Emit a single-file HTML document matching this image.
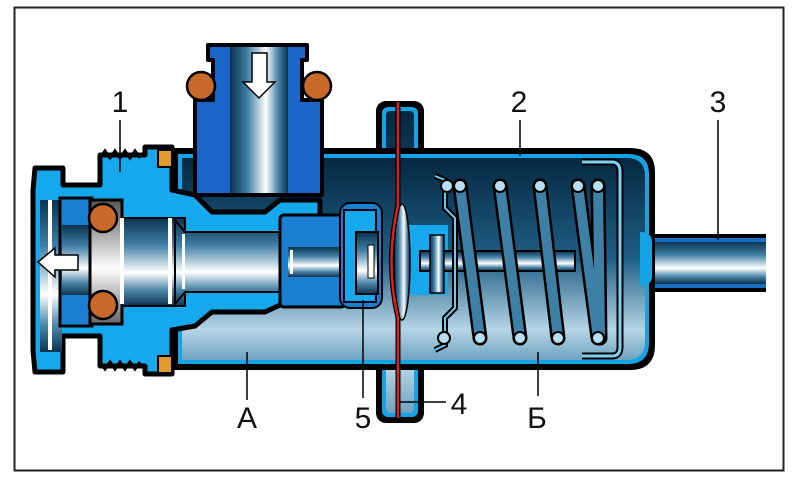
<!DOCTYPE html>
<html><head><meta charset="utf-8"><style>html,body{margin:0;padding:0;background:#fff}svg{display:block}</style></head><body>
<svg width="798" height="484" viewBox="0 0 798 484" xmlns="http://www.w3.org/2000/svg">
<defs>
<linearGradient id="cyl" x1="0" y1="0" x2="0" y2="1">
<stop offset="0" stop-color="#0a3350"/><stop offset="0.3" stop-color="#3f7fa5"/><stop offset="0.62" stop-color="#ffffff"/><stop offset="0.82" stop-color="#4f88ab"/><stop offset="1" stop-color="#0a3350"/></linearGradient>
<linearGradient id="cylv" x1="0" y1="0" x2="1" y2="0">
<stop offset="0" stop-color="#0a3350"/><stop offset="0.3" stop-color="#3f7fa5"/><stop offset="0.62" stop-color="#ffffff"/><stop offset="0.82" stop-color="#4f88ab"/><stop offset="1" stop-color="#0a3350"/></linearGradient>
<linearGradient id="ch" x1="0" y1="0" x2="0" y2="1">
<stop offset="0" stop-color="#052841"/><stop offset="0.5" stop-color="#1f5f85"/><stop offset="0.85" stop-color="#b5d5e5"/><stop offset="1" stop-color="#6fa3bf"/></linearGradient>
<linearGradient id="grey" x1="0" y1="0" x2="0" y2="1">
<stop offset="0" stop-color="#555"/><stop offset="0.55" stop-color="#fff"/><stop offset="1" stop-color="#666"/></linearGradient>
</defs>
<rect x="14.5" y="7.5" width="769" height="463" fill="#fff" stroke="#222" stroke-width="2"/>

<rect x="628" y="234" width="138" height="58" fill="#000"/>
<rect x="628" y="238" width="138" height="50" fill="#1a6fc4"/>
<rect x="628" y="242" width="138" height="42" fill="url(#cyl)"/>

<rect x="376" y="101" width="48" height="322" rx="10" fill="#000"/>
<rect x="382" y="107" width="36" height="310" rx="6" fill="#15a3e6"/>
<rect x="386" y="111" width="28" height="302" rx="4" fill="url(#ch)"/>

<path d="M172,148 H630 Q655,148 655,172 V345 Q655,370 630,370 H172 Z" fill="#000"/>
<path d="M178,154 H628 Q649,154 649,174 V343 Q649,364 628,364 H178 Z" fill="#15a3e6"/>
<path d="M182,158 H626 Q645,158 645,176 V341 Q645,360 626,360 H182 Z" fill="url(#ch)"/>
<path d="M640,232 q12,0 12,10 v34 q0,10 -12,10 z" fill="#15a3e6"/>

<path d="M35,168 H63 V185 H100 V155 H145 V147 H172 V190 L195,195 L212,212 H265 L280,200 H320 V305 H280 L265,312 H212 L195,326 L172,330 V374 H145 V366 H100 V336 H63 V372 H35 L33,350 V190 Z" fill="#15a8ec" stroke="#000" stroke-width="5" stroke-linejoin="round"/>
<path d="M100,158 l5,-7 l5,7 l5,-7 l5,7 l5,-7 l5,7 l5,-7 l5,7" fill="none" stroke="#000" stroke-width="3"/>
<path d="M100,362 l5,7 l5,-7 l5,7 l5,-7 l5,7 l5,-7 l5,7 l5,-7" fill="none" stroke="#000" stroke-width="3"/>
<rect x="158" y="150" width="14" height="17" fill="#e09a30" stroke="#000" stroke-width="2"/>
<rect x="158" y="356" width="14" height="17" fill="#e09a30" stroke="#000" stroke-width="2"/>

<rect x="40" y="200" width="22" height="152" fill="url(#cyl)"/>
<rect x="48" y="200" width="4" height="150" fill="#fff"/>
<rect x="60" y="198" width="32" height="128" fill="#1a7fd0" stroke="#000" stroke-width="3"/>
<rect x="62" y="225" width="28" height="70" fill="url(#cyl)"/>
<rect x="90" y="200" width="32" height="124" fill="url(#grey)" stroke="#000" stroke-width="3"/>
<rect x="122" y="218" width="63" height="88" fill="url(#cyl)" stroke="#000" stroke-width="2"/>
<rect x="120" y="218" width="4" height="86" fill="#fff"/>
<rect x="168" y="218" width="4" height="86" fill="#fff"/>
<path d="M175,220 L185,232 H285 V292 H185 L175,304 Z" fill="url(#cyl)" stroke="#000" stroke-width="2"/>
<rect x="182" y="234" width="3" height="55" fill="#fff"/>
<circle cx="103" cy="218" r="14" fill="#c8692a" stroke="#000" stroke-width="2.5"/>
<circle cx="103" cy="305" r="14" fill="#c8692a" stroke="#000" stroke-width="2.5"/>
<path d="M38,262 L55,248 V255 H78 V270 H55 V277 Z" fill="#fff" stroke="#000" stroke-width="1.5"/>

<rect x="280" y="215" width="65" height="92" rx="4" fill="#1a7fd0" stroke="#000" stroke-width="3"/>
<rect x="288" y="247" width="60" height="30" fill="url(#cyl)"/>
<rect x="290" y="250" width="3" height="24" fill="#fff"/>

<rect x="340" y="203" width="42" height="105" rx="10" fill="#1a7fd0" stroke="#000" stroke-width="2"/>
<rect x="344" y="210" width="32" height="92" fill="#15a8ec" stroke="#000" stroke-width="2"/>
<rect x="356" y="232" width="22" height="62" fill="url(#cyl)" stroke="#000" stroke-width="2"/>
<rect x="368" y="245" width="6" height="33" fill="#fff" stroke="#000" stroke-width="1"/>

<path d="M208,45 H307 V60 H302 V100 H322 V195 H195 V100 H213 V60 H208 Z" fill="#1a66c8" stroke="#000" stroke-width="4" stroke-linejoin="round"/>
<rect x="230" y="47" width="58" height="146" fill="url(#cylv)"/>
<path d="M252,53 H267 V82 H275 L259,98 L243,82 H252 Z" fill="#fff" stroke="#000" stroke-width="1.5"/>
<circle cx="201" cy="86" r="14" fill="#c8692a" stroke="#000" stroke-width="2.5"/>
<circle cx="317" cy="86" r="14" fill="#c8692a" stroke="#000" stroke-width="2.5"/>

<rect x="400" y="225" width="48" height="70" fill="#15a8ec"/>
<ellipse cx="402" cy="262" rx="8" ry="58" fill="url(#cylv)" stroke="#000" stroke-width="1.5"/>
<rect x="420" y="251" width="155" height="20" fill="url(#cyl)" stroke="#000" stroke-width="2"/>
<rect x="430" y="235" width="14" height="58" fill="url(#cylv)" stroke="#000" stroke-width="1.5"/>
<path d="M435,176 L445,180 V208 L455,218 V308 L445,318 V345 L435,350" fill="none" stroke="#000" stroke-width="6"/>
<path d="M435,176 L445,180 V208 L455,218 V308 L445,318 V345 L435,350" fill="none" stroke="#6cc8f0" stroke-width="2"/>

<path d="M398,102 V205 Q385,262 398,318 V418" fill="none" stroke="#000" stroke-width="5"/>
<path d="M398,102 V205 Q385,262 398,318 V418" fill="none" stroke="#e02020" stroke-width="2.5"/>

<path d="M582,162 H612 Q620,162 620,172 V347 Q620,356 612,356 H582" fill="none" stroke="#000" stroke-width="7"/>
<path d="M582,162 H612 Q620,162 620,172 V347 Q620,356 612,356 H582" fill="none" stroke="#7ed0f5" stroke-width="3"/>

<g stroke-linecap="round">
<g stroke="#000" stroke-width="15">
<line x1="460" y1="186" x2="480" y2="338"/><line x1="500" y1="186" x2="520" y2="338"/><line x1="540" y1="186" x2="558" y2="338"/><line x1="578" y1="186" x2="598" y2="338"/><line x1="598" y1="186" x2="600" y2="338"/>
</g>
<g stroke="#3d7fa5" stroke-width="10">
<line x1="460" y1="186" x2="480" y2="338"/><line x1="500" y1="186" x2="520" y2="338"/><line x1="540" y1="186" x2="558" y2="338"/><line x1="578" y1="186" x2="598" y2="338"/><line x1="598" y1="186" x2="600" y2="338"/>
</g>
</g>
<g fill="#b8e0f5" stroke="#000" stroke-width="2">
<circle cx="447" cy="186" r="6"/><circle cx="460" cy="186" r="6"/><circle cx="500" cy="186" r="6"/><circle cx="540" cy="186" r="6"/><circle cx="578" cy="186" r="6"/><circle cx="598" cy="186" r="6"/>
<circle cx="444" cy="338" r="6"/><circle cx="480" cy="338" r="6"/><circle cx="520" cy="338" r="6"/><circle cx="558" cy="338" r="6"/><circle cx="598" cy="338" r="6"/>
</g>

<g stroke="#000" stroke-width="1.5">
<line x1="120" y1="120" x2="120" y2="172"/>
<line x1="520" y1="120" x2="520" y2="156"/>
<line x1="718" y1="120" x2="718" y2="240"/>
<line x1="247" y1="400" x2="247" y2="352"/>
<line x1="363" y1="398" x2="363" y2="300"/>
<line x1="538" y1="396" x2="538" y2="352"/>
<line x1="400" y1="402" x2="446" y2="402"/>
</g>
<g font-family="Liberation Sans, DejaVu Sans, sans-serif" font-size="30" fill="#111" text-anchor="middle">
<text x="120" y="112">1</text>
<text x="519" y="112">2</text>
<text x="718" y="112">3</text>
<text x="247" y="428">А</text>
<text x="363" y="428">5</text>
<text x="459" y="414">4</text>
<text x="537" y="428">Б</text>
</g>
</svg>
</body></html>
